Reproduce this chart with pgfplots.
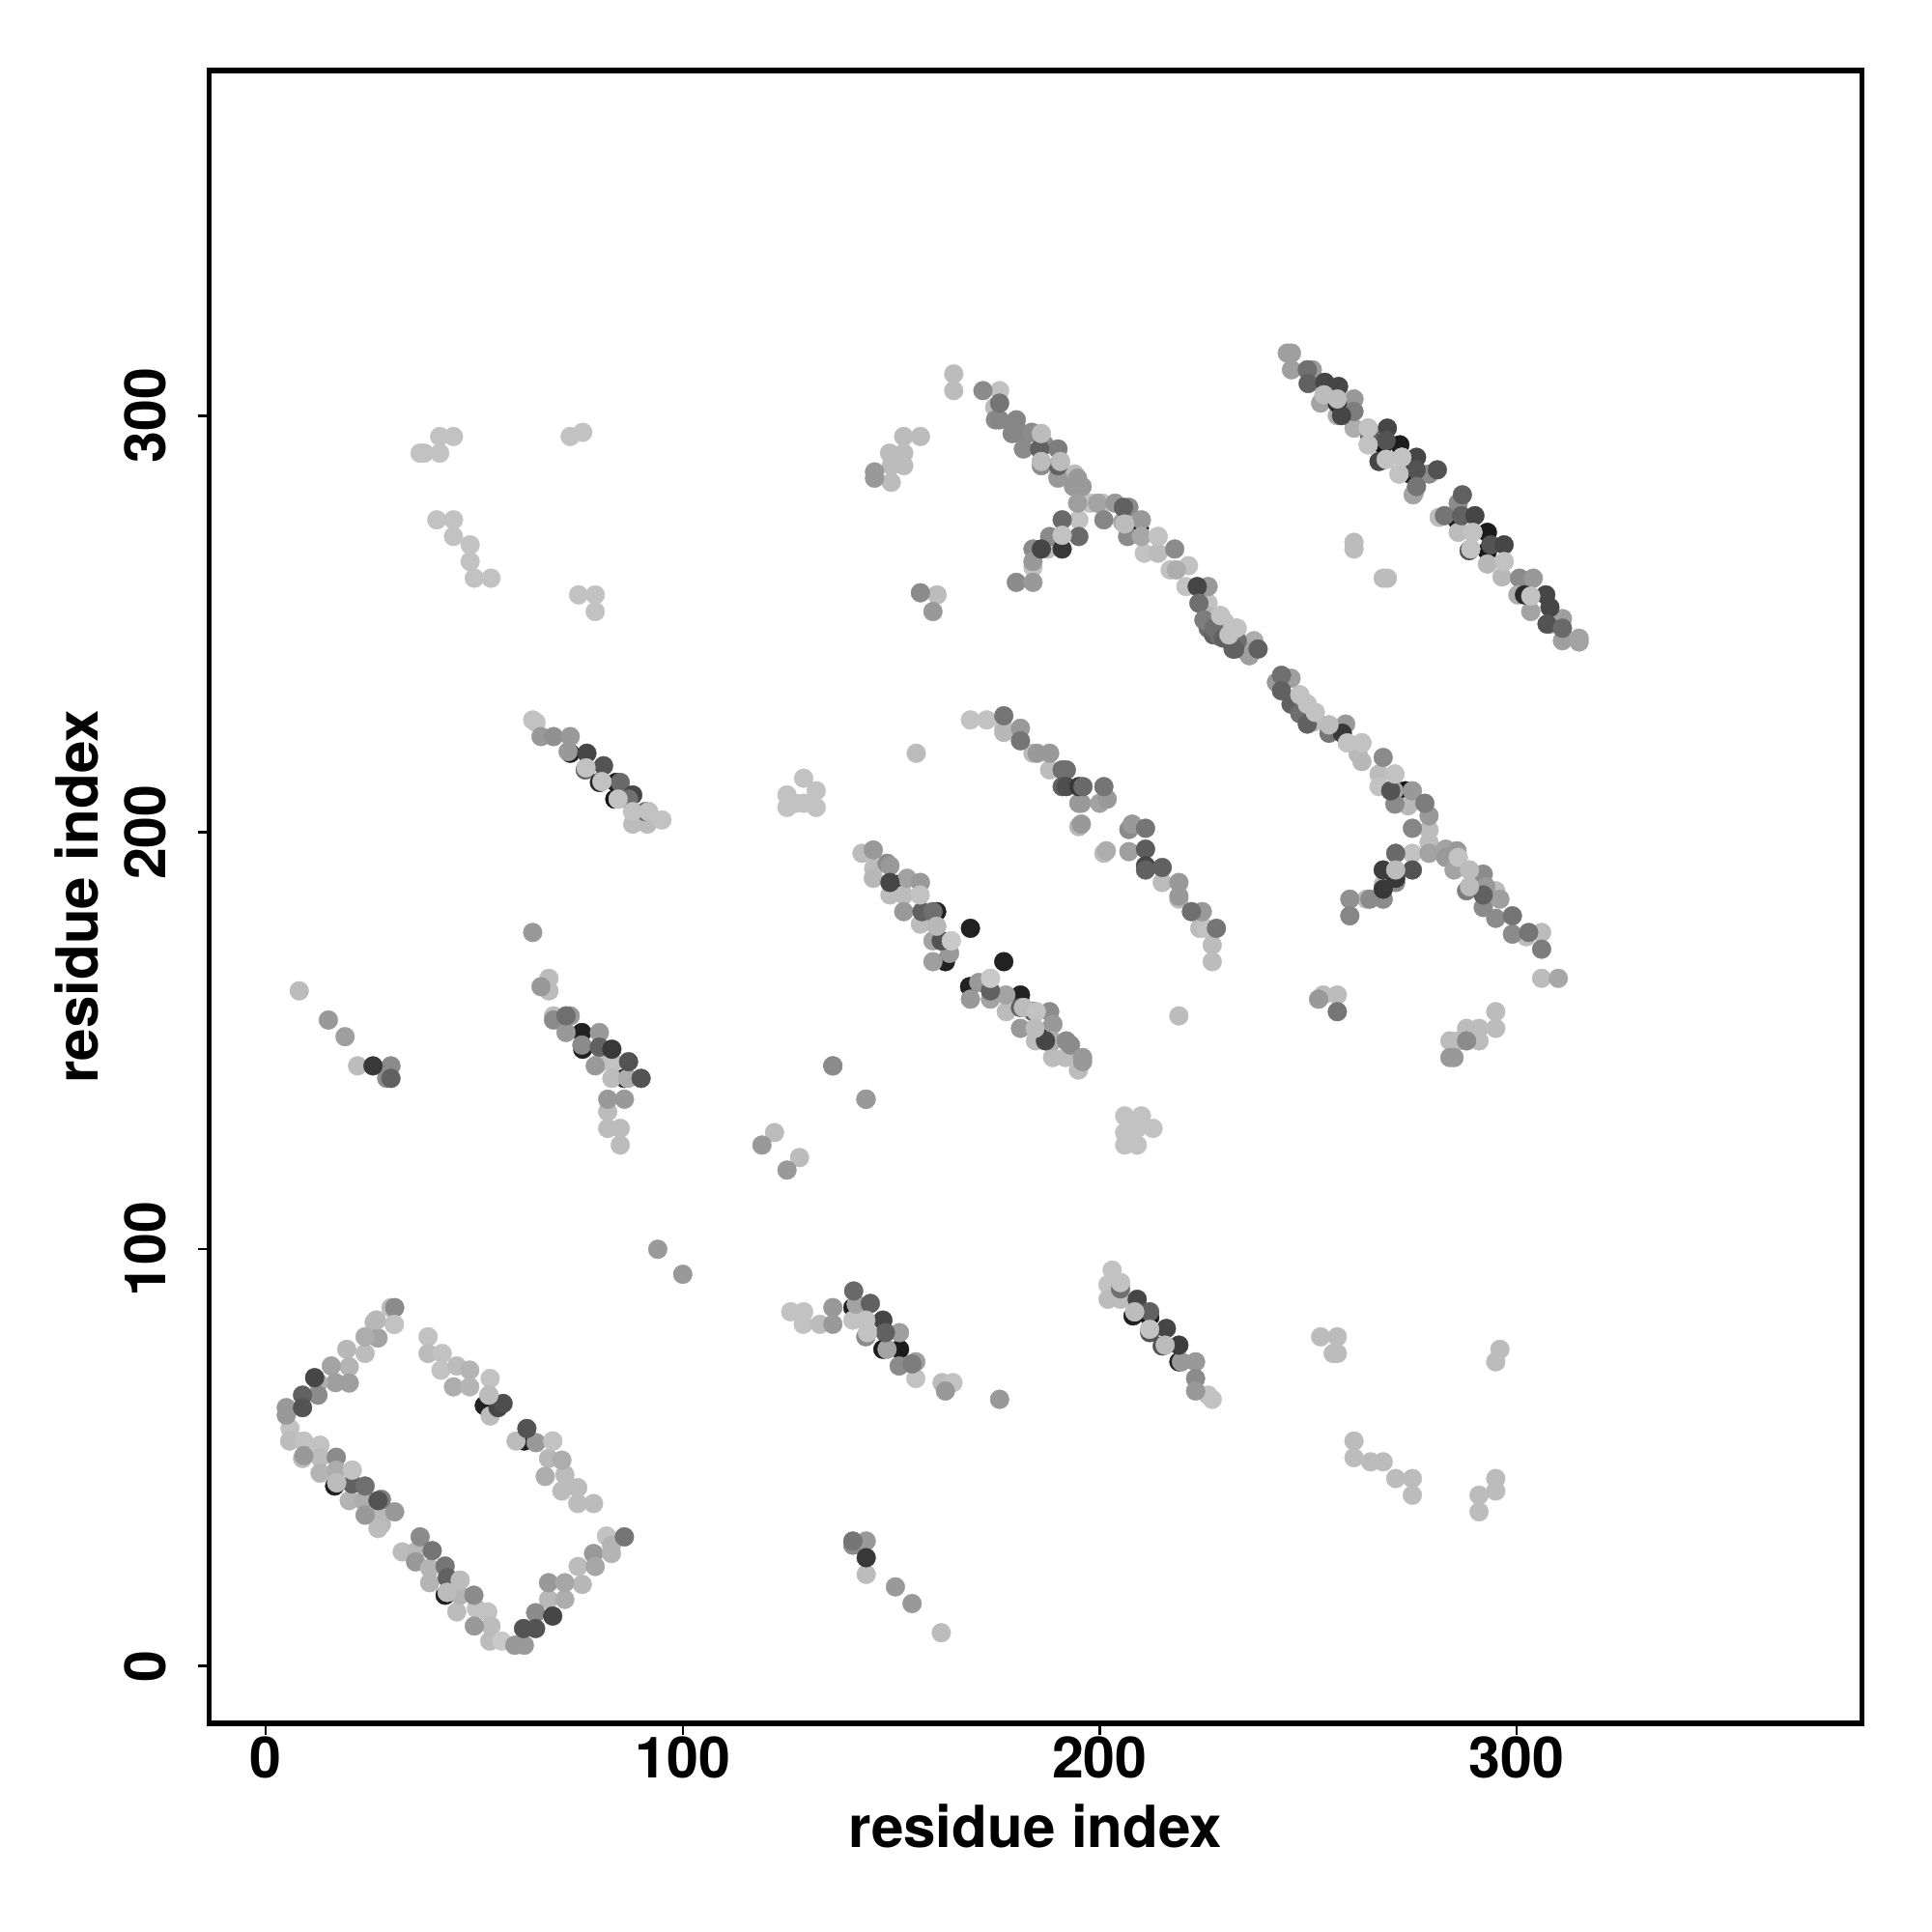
\documentclass[border=0pt]{standalone}
\usepackage{fontspec}
\setmainfont{TeX Gyre Heros}
\usepackage{pgfplots}
\usepackage{pgfplotstable}
\pgfplotsset{compat=1.18}
\pgfplotstableread{
x y g
30.9 86 .5
30 86 .72
30.8 82 .75
26.5 83 .7
26 82.5 .7
26.9 78.7 .6
23.8 79 .65
23.8 75 .72
19.4 76 .7
20 71.8 .68
15.7 72 .6
20 67.9 .58
16.7 68 .58
12.6 68 .65
11.7 69.2 .25
8.8 65 .35
12.5 65 .5
8.8 62 .3
4.9 62 .55
4.9 60.2 .55
5.8 57 .75
5.7 54 .72
9.1 54 .75
13 53 .75
9.1 50.5 .55
8.8 49.8 .72
16.9 50.1 .5
13 50 .72
13 46.3 .68
16.9 47 .65
20.7 47 .75
16.5 43.2 .12
17 44 .72
20.7 43.7 .35
23.8 43.2 .4
20 39.7 .68
23.4 39.7 .65
27.7 40 .45
26.9 39.7 .3
27.7 36.6 .7
30.9 37 .55
23.8 36.2 .55
27.7 34 .7
26.9 33 .72
37 31 .5
32.7 27.4 .72
35.9 27.4 .7
39.9 27.7 .42
35.9 25 .55
39.3 23.5 .68
43 24 .42
43.5 21.2 .35
39.3 20 .68
46.6 20.6 .72
43 17 .12
43.5 17.7 .72
46.6 17 .68
49.9 17 .5
45.8 13 .72
50.5 13.8 .75
53.2 13 .75
50 9.6 .55
54 9.6 .72
53.7 6 .72
56.6 6 .78
59.7 5 .55
62 5 .55
61.8 9 .3
64.7 9 .3
64.7 12.8 .5
68.8 12 .25
67.8 16 .7
71.7 16 .65
67.8 20 .55
71.7 20 .62
75.9 19.6 .7
74.9 23.9 .72
78.6 27 .55
79 23.9 .62
82.9 27 .68
81.7 31.2 .75
82.9 29 .68
86 31 .42
38.9 79 .75
38.9 75 .72
42.3 75 .75
42 71 .75
45.8 72 .72
48.9 71 .68
45 67 .65
48.9 67 .68
53.8 69 .75
53.5 65 .72
52.4 62.5 .12
53.8 60 .72
55.7 62 .25
56.9 63 .28
62.6 57 .3
62 54 .12
60 54 .72
64.8 53.6 .55
68.8 54 .75
67.8 49.8 .7
71 49.4 .65
67 45.5 .65
71.7 45.9 .72
71 42 .72
74.8 42.8 .72
74.8 39 .72
78.6 39 .72
125.9 85 .75
129 85 .75
128.9 82 .75
132.9 82 .72
136 86 .55
136 82 .55
141 90 .38
140.8 86 .12
141.6 86.8 .6
145 87 .35
140.8 83 .75
143.9 83 .75
143.9 79 .5
144.3 80 .75
148 83 .25
148.6 80 .35
152 80 .58
148 76 .1
149 76 .6
152 76 .1
151.9 72 .5
155.9 73 .58
155 72.5 .45
155.9 69 .75
162.2 68 .72
163 66 .55
164.8 68 .75
176 64 .55
203 95 .75
202 91.5 .75
205 92 .75
205 90.5 .4
202 88 .72
205 88 .72
209 88 .25
208 84 .12
208.4 85 .72
212 85 .35
212 83.7 .08
212 80.8 .75
212 80 .3
216 81 .25
215 76.8 .3
215.7 77 .72
219 77 .22
219 73 .12
219.6 73 .55
223 73 .55
223 69 .5
223 66 .55
226 65 .75
227 64 .75
140.8 30 .42
140.8 29 .5
144 30 .55
144 26 .2
144 22 .72
151 19 .55
155 15 .55
162 8 .72
143 195 .72
145.7 195.8 .55
145.8 191.4 .72
145.7 189 .7
149 192.6 .5
149.7 192 .55
149.7 188 .25
149.7 185 .72
151.5 187.5 .05
153.8 189 .6
157 188 .55
153 185 .72
153 181 .55
156.9 185 .75
157.4 181 .35
157 178 .72
160.9 181 .12
160 181 .4
160.9 177.5 .68
160 174 .6
162 174 .3
164.4 174 .78
164 171 .55
163 169 .12
160 169 .58
169 177 .12
177 169 .12
168.8 163 .12
169 160 .55
171 164 .55
173.8 165 .78
173.8 162 .35
173.8 160 .6
177.5 161 .6
177.6 157 .72
181 161 .12
181 158 .35
181.7 158 .72
181 153 .55
184 157 .35
184.8 157 .75
184.5 153 .72
188 157 .5
188.8 154 .55
186.4 152 .05
184.6 150 .72
187 150 .25
188.7 150 .65
188.7 146 .72
192 150 .5
193 149 .5
191.8 146 .72
194.9 143 .72
195.9 146 .55
195.9 145 .55
169 227 .75
172.9 227 .75
177 228 .42
177 225 .75
177 224 .7
181 225 .55
181 222 .42
184 219 .72
185 219 .55
188 219 .55
188 215 .72
191 215 .4
192 215 .4
191 211 .35
192 211 .28
195 211 .2
196 211 .38
195.6 207 .55
195 207 .55
201 211 .42
200 207 .6
201.8 208 .55
195.6 202 .55
195 201.4 .7
201.6 195.6 .65
201 195 .72
207 200.7 .5
207.8 202 .55
211 201 .42
207 195.4 .58
211 196 .33
211 192 .25
211 191 .35
215 191.6 .35
215 188 .72
219 188 .55
219 184.7 .55
219 184 .72
222 181 .4
224.6 181 .55
224 177 .72
225.4 177 .75
228 177 .42
227 173 .72
227 169 .72
219 156 .72
143.9 136 .55
136 144 .55
206 132 .75
210 132 .75
209 129 .75
206 128 .75
212.8 129 .75
206 125 .75
209 125 .75
64 227 .75
64.8 226.4 .75
66 223 .55
69 223 .52
73 223 .55
73 219 .12
72.5 219.4 .55
77 219 .25
76.6 215 .35
76.8 215.5 .72
81 216 .3
80 212 .15
80.6 212.2 .72
84 212 .1
85 212 .38
83.7 208 .08
84.5 208 .72
88 209 .25
87 208 .4
88 205 .72
88 202 .72
91 205 .4
91.8 205 .75
91.5 202 .72
95 203 .75
64 176 .55
66 163 .55
67.9 165 .72
67.9 162 .72
69 156 .72
69 155 .5
72 156 .4
73 156 .55
72 152 .55
75.8 152 .12
76 148 .12
75.8 149 .5
80 152 .55
80 148.5 .35
83 148 .2
79 144 .55
80 144.7 .72
83.3 144.7 .75
87 145 .3
83 141 .72
86 141 .12
86.8 141 .65
90 141 .3
82 136 .55
86 136 .55
82 133 .72
82 129 .72
85 129 .72
85 125 .72
165 310 .72
165 306 .72
172 306 .5
176 306 .75
176 303 .42
174.8 302 .72
175 299 .5
176 299 .48
180 299 .48
179 295.7 .48
180 297 .48
181.7 295 .48
181.7 292 .5
183.7 296 .5
186 295.7 .72
186.8 293 .5
190 292 .45
185.6 292 .35
186 288 .5
186 289 .72
190.6 289 .72
190 288 .35
190 285 .55
190 285.5 .72
194 286 .72
194.7 285 .55
193.7 283 .55
195.8 283 .55
194.7 279 .58
197.7 279 .75
199.5 279 .6
200.7 279 .75
203.7 279 .55
205.7 278 .35
207 278 .5
201 275 .48
206 274 .72
205.5 274.5 .6
210 275 .55
209.5 273 .1
206.7 271 .5
210 271 .62
214 271 .75
210.7 267 .75
214 267 .72
218 268 .5
216.9 263 .75
218.4 263 .65
221.3 264 .75
220.7 259 .75
223.4 259 .25
226 259 .55
223.8 255 .4
226 255 .75
226 252 .7
226 249 .4
227.3 247.4 .35
228.8 252 .75
230 250.5 .75
233 249 .75
228.8 247 .4
233 246 .4
237 246 .65
238 244 .35
232 244 .35
235 243.5 .6
225 251 .45
227.4 249 .4
229.7 246.6 .35
232.4 244 .35
235.9 242.4 .58
229 252 .75
232.8 249 .75
231 247.4 .75
191 275 .38
195 275 .75
195 271 .38
191 271.3 .75
188 271 .5
191 268 .2
186 268 .25
187.5 268 .72
184 268 .5
184 265 .55
184 263.6 .75
180 260 .5
184 260 .55
245 315 .58
246 315 .58
246 311 .58
249.8 311 .4
251 311 .55
250 307.7 .35
254 308 .25
257.3 307 .25
253 303 .6
253.8 305 .72
257 303 .15
257 304 .72
261 304 .55
261 301 .45
257 300 .65
258 300 .25
261 297 .65
264.4 297 .72
264.8 295 .35
264.4 293 .72
269 297 .25
268.7 294 .3
268 293 .08
272 293 .1
268.7 289.5 .72
267 289 .25
272.5 290 .75
276 290 .25
271.8 286 .72
274.5 286 .12
275.9 287 .3
279 286 .5
281 287 .3
276 283 .42
275.2 281 .6
275.5 281.5 .72
281.4 275.6 .72
282.7 276 .42
287 281 .35
286 279 .5
285.7 275 .1
286.8 276 .35
290 276 .25
286 272 .72
289.5 272 .72
293 272 .1
289 268 .72
288.6 267.6 .3
293.8 269 .3
297 269 .25
293 267.5 .08
293 264.4 .7
297 265 .72
296.5 261.3 .7
300.7 261 .5
304 261 .55
300.3 257 .65
303.4 256.7 .72
301.9 257 .15
303.4 253 .6
307 257 .25
308 254 .25
307.3 250 .3
308 250 .55
311 251.3 .58
311 246 .58
311 249 .38
315 245.7 .6
315 246.6 .6
261 269.6 .72
261 268 .72
268 261 .72
269 261 .72
243.6 237.7 .4
242.4 236 .55
243.6 234 .35
245.9 237 .58
245.9 230.8 .35
248 228.5 .4
249.8 226 .35
248 233 .75
249.8 230.8 .75
251.7 228.8 .75
251.3 226.5 .72
255 225.8 .72
255 223.8 .42
259 226 .55
258.2 223.8 .2
259.4 221.5 .75
262.9 221.5 .75
262 218.8 .7
262.9 217 .7
268 218 .5
267 214 .72
270.8 214 .75
267 211 .75
270.6 210 .6
269.8 210 .3
273.3 210 .08
275 210 .55
270.8 206.8 .5
274 206.4 .7
278 207 .45
279 204 .55
275 201 .48
279 200.6 .72
279 197.6 .72
275 195 .75
279 195 .6
283 196 .6
283 194 .55
285.7 195.6 .55
286 194 .75
285 191 .6
288.7 191 .72
288.7 187 .72
292 190 .5
288 186 .45
292.6 187 .55
292 185 .35
295 186 .72
292 182 .5
296 184 .58
295 179.4 .5
299 180 .42
299 175.6 .5
302.3 175 .72
302.9 176 .42
306 176 .72
306 172 .45
306 165 .72
310 165 .62
271 195 .38
268 191 .22
271 191 .72
275 191 .3
271 189 .2
268 187.5 .72
268 186.4 .2
271 188 .5
260 184 .52
264 184 .72
264.8 184 .5
268 184 .5
260 180 .48
253.6 161 .72
257 161 .72
252.5 160 .55
257 157 .42
37 291 .75
38 291 .75
41.7 291 .75
41.7 295 .75
45 295 .75
41 275 .75
45 275 .75
45 271 .75
49 269 .75
49 265 .75
50 261 .75
54 261 .75
73 295 .75
76 296 .75
75 257 .75
79 257 .75
79 253 .75
157 257.5 .5
161 257 .72
160 253 .55
156 219 .72
125 209 .75
125 206 .75
129 213 .75
132 210 .75
129 207 .75
132 206 .75
127 207 .75
146 285 .55
146 286.5 .55
150 284 .72
149.6 291 .72
153 288 .72
153 291 .72
153 295 .72
157 295 .72
150 288 .72
8 162 .72
15 155 .55
19 151 .58
22 144 .72
25.7 144 .2
30 144 .5
29 141 .5
30 141 .35
119 125 .55
122 128 .72
125 119 .55
128 122 .72
94 100 .55
100 94 .55
136 144 .5
144 136 .55
253 79 .72
257 79 .72
256 75 .72
257 75 .72
261 54 .72
261 50 .72
265 49 .72
268 49 .72
271 45 .72
275 45 .72
275 41 .72
291 41 .72
291 37 .72
295 45 .72
295 42 .72
296 76 .72
295 73 .72
284 146 .55
285 146 .55
286 150 .72
288 150 .5
288 153 .72
291 153 .72
291 150 .72
295 153 .72
295 157 .72
284 150 .72
}\contacts
\pgfplotstableread{
x y g
264.4 297 .75
264.4 293 .75
268.7 289.5 .75
272.5 290 .75
271.8 286 .75
289.5 272 .75
289 268 .75
297 265 .75
303.4 256.7 .75
257 304 .72
253.8 305 .72
80.6 212.2 .75
84.5 208 .75
76.8 215.5 .75
88 205 .75
91.8 205 .75
164.4 174 .78
173.8 165 .78
181.7 158 .72
184.8 157 .75
184.5 153 .72
156.9 185 .75
160.9 177.5 .7
143.9 83 .75
144.3 80 .75
208.4 85 .72
212 80.8 .75
215.7 77 .72
205 92 .75
206 274 .72
214 271 .75
186 289 .72
190.6 289 .72
186 295.7 .72
191 271.3 .75
248 233 .75
249.8 230.8 .75
251.7 228.8 .75
229 252 .75
232.8 249 .75
231 247.4 .75
255 225.8 .72
259.4 221.5 .75
262.9 221.5 .75
270.8 214 .75
286 194 .75
288.7 191 .72
288.7 187 .72
271 191 .72
17 44 .72
20.7 47 .75
30.8 82 .75
26.5 83 .7
43.5 17.7 .72
46.6 20.6 .72
68.8 54 .75
53.5 65 .72
}\toplights
\pgfplotsset{pt/.style={only marks, mark=*, mark size=0.098cm, scatter, scatter/use mapped color={draw=mapped color,fill=mapped color}, mark options={line width=0.1pt}}}
\begin{document}
\begin{tikzpicture}[x=1cm,y=1cm]
\path[use as bounding box] (0,0) rectangle (20,20);
\begin{axis}[
  at={(2.163cm,2.16cm)}, anchor=south west,
  scale only axis, width=17.11cm, height=17.11cm,
  xmin=-13.65, xmax=382.8, ymin=-13.74, ymax=382.8,
  xtick={0,100,200,300}, ytick={0,100,200,300},
  xtick pos=lower, ytick pos=left, tick align=outside,
  major tick length=0.115cm,
  tick style={line width=0.025cm,black},
  axis line style={line width=0.055cm,black},
  /pgf/number format/assume math mode=true,
  tick label style={font=\fontsize{16.8}{20}\selectfont\bfseries},
  yticklabel style={rotate=90,anchor=south},
  xticklabel shift=-0.1cm,
  yticklabel shift=0.2cm,
  xlabel={residue index}, ylabel={residue index},
  every axis x label/.style={at={(axis description cs:0.5,0)},anchor=center,yshift=-1.06cm,font=\fontsize{17.1}{20}\selectfont\bfseries},
  every axis y label/.style={at={(axis description cs:0,0.5)},anchor=center,rotate=90,yshift=1.37cm,font=\fontsize{17.1}{20}\selectfont\bfseries},
  colormap={gr}{gray(0cm)=(0); gray(55cm)=(0.6); gray(75cm)=(0.76); gray(100cm)=(1)},
  point meta min=0, point meta max=1,
  unbounded coords=discard,
  filter discard warning=false,
]
% layers: black under everything, then light, mid, dark, and a few light ones on top
\addplot[pt] table[x expr={\thisrow{g}<0.13 ? \thisrow{x} : nan}, y=y, point meta=\thisrow{g}] {\contacts};
\addplot[pt] table[x expr={\thisrow{g}>=0.69 ? \thisrow{x} : nan}, y=y, point meta=\thisrow{g}] {\contacts};
\addplot[pt] table[x expr={\thisrow{g}>=0.46 && \thisrow{g}<0.69 ? \thisrow{x} : nan}, y=y, point meta=\thisrow{g}] {\contacts};
\addplot[pt] table[x expr={\thisrow{g}>=0.13 && \thisrow{g}<0.46 ? \thisrow{x} : nan}, y=y, point meta=\thisrow{g}] {\contacts};
\addplot[pt] table[x=x, y=y, point meta=\thisrow{g}] {\toplights};
\end{axis}
\end{tikzpicture}
\end{document}
